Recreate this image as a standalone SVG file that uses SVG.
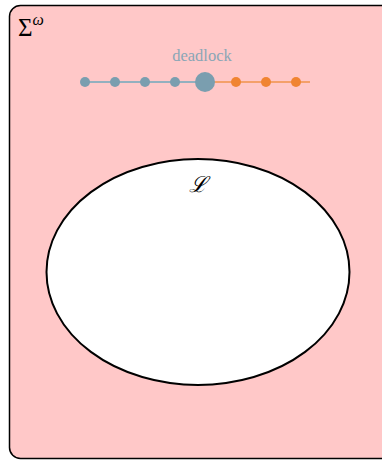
<svg xmlns="http://www.w3.org/2000/svg" width="382" height="460" viewBox="0 0 382 460">
<style>
.b{fill:#7a9eaf}
.o{fill:#f08432}
.t{font-family:"Liberation Serif","DejaVu Serif",serif}
</style>
<g id="universe">
<rect x="9.5" y="5.5" width="382" height="453" rx="11" fill="#ffc8c8" stroke="#000" stroke-width="1.5"/>
<text class="t" x="18" y="36" font-size="25">Σ<tspan font-size="16" dy="-11" font-style="italic">ω</tspan></text>
</g>
<g id="L">
<ellipse cx="198" cy="272" rx="151.5" ry="113" fill="#fff" stroke="#000" stroke-width="2"/>
<text class="t" x="198" y="192" font-size="22" text-anchor="middle" font-style="italic">ℒ</text>
</g>
<g id="connectors">
<line x1="85" y1="82" x2="205" y2="82" stroke="#93b0bf" stroke-width="2"/>
<line x1="205" y1="82" x2="310" y2="82" stroke="#f4a06a" stroke-width="2"/>
</g>
<g id="trace">
<circle class="b" cx="85" cy="82" r="5"/>
<circle class="b" cx="115" cy="82" r="5"/>
<circle class="b" cx="145" cy="82" r="5"/>
<circle class="b" cx="175" cy="82" r="5"/>
<circle class="b" cx="205" cy="82" r="10"/>
<circle class="o" cx="236" cy="82" r="5"/>
<circle class="o" cx="266" cy="82" r="5"/>
<circle class="o" cx="296" cy="82" r="5"/>
<text class="t" x="202" y="61" font-size="16.5" fill="#8aa6b6" text-anchor="middle">deadlock</text>
</g>
</svg>
